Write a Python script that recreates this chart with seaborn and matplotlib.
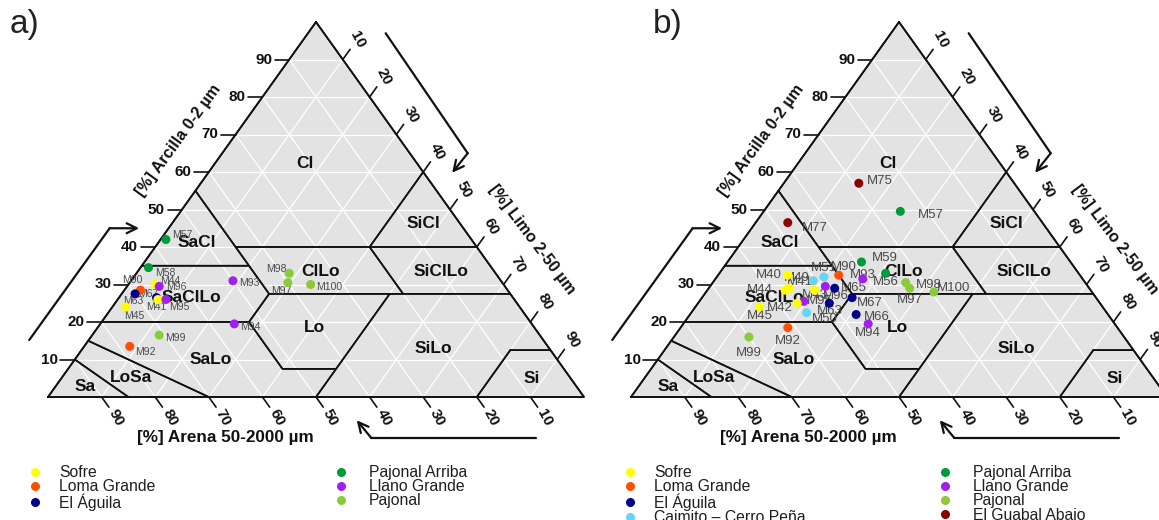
import matplotlib
matplotlib.use("Agg")
import numpy as np
import pandas as pd
import matplotlib.pyplot as plt
import seaborn as sns
from matplotlib.lines import Line2D
from matplotlib.patches import Polygon

sns.set_theme(style="white")
plt.rcParams["font.family"] = ["Liberation Sans", "DejaVu Sans"]

# ---------------------------------------------------------------- sites
SITES = ["Sofre", "Loma Grande", "El Águila", "Caimito – Cerro Peña",
         "Pajonal Arriba", "Llano Grande", "Pajonal", "El Guabal Abajo"]
SITE_COLORS = ["#ffff00", "#ff4f00", "#00008b", "#66d4f2",
               "#009a3a", "#a020f0", "#8acb37", "#8b0000"]

# ---------------------------------------------------------------- panel a samples (%)
a_sample = ["M57", "M58", "M90", "M44", "M96", "M63", "M67", "M41", "M95",
            "M45", "M93", "M94", "M99", "M92", "M98", "M97", "M100"]
a_site = ["Pajonal Arriba", "Pajonal Arriba", "Loma Grande", "Sofre", "Llano Grande",
          "El Águila", "El Águila", "Sofre", "Llano Grande", "Sofre", "Llano Grande",
          "Llano Grande", "Pajonal", "Loma Grande", "Pajonal", "Pajonal", "Pajonal"]
a_clay = [42, 34.5, 28.5, 30, 29.5, 27.5, 26.5, 26, 26, 24, 31, 19.5, 16.5, 13.5, 33, 30.5, 30]
a_silt = [1, 1.5, 3, 5, 6, 2.5, 7, 7.5, 9, 2.5, 19, 25, 12.5, 8.5, 28.5, 29.5, 34]
a_sand = [57, 64, 68.5, 65, 64.5, 70, 66.5, 66.5, 65, 73.5, 50, 55.5, 71, 78, 38.5, 40, 36]

# ---------------------------------------------------------------- panel b samples (%)
b_sample = ["M75", "M57", "M77", "M59", "M90", "M51", "M49", "M93", "M56", "M40",
            "M41", "M44", "M43", "M96", "M65", "M67", "M95", "M42", "M63", "M50",
            "M45", "M92", "M99", "M66", "M94", "M98", "M97", "M100"]
b_site = ["El Guabal Abajo", "Pajonal Arriba", "El Guabal Abajo", "Pajonal Arriba",
          "Loma Grande", "Caimito – Cerro Peña", "Caimito – Cerro Peña", "Llano Grande",
          "Pajonal Arriba", "Sofre", "Sofre", "Sofre", "Sofre", "Llano Grande",
          "El Águila", "El Águila", "Llano Grande", "Sofre", "El Águila",
          "Caimito – Cerro Peña", "Sofre", "Loma Grande", "Pajonal", "El Águila",
          "Llano Grande", "Pajonal", "Pajonal", "Pajonal"]
b_clay = [57, 49.5, 46.5, 36, 32.5, 32, 31, 31.5, 33, 32.5, 29, 28.5, 28.5, 29.5,
          29, 26.5, 25.5, 25, 25, 22.5, 24, 18.5, 16, 22, 19.5, 30.5, 29, 28]
b_silt = [14, 25.5, 6, 25, 22.5, 20, 18.5, 27.5, 31, 13, 15, 14.5, 20, 21.5,
          23.5, 28, 19.5, 18.5, 24.5, 21.5, 12, 20, 14, 31, 34.5, 36, 37.5, 42.5]
b_sand = [29, 25, 47.5, 39, 45, 48, 50.5, 41, 36, 54.5, 56, 57, 51.5, 49,
          47.5, 45.5, 55, 56.5, 50.5, 56, 64, 61.5, 70, 47, 46, 33.5, 33.5, 29.5]

# ---------------------------------------------------------------- USDA texture classes (clay, silt)
CLASSES = {
    "Cl":     [(100, 0), (55, 0), (40, 15), (40, 40), (60, 40)],
    "SiCl":   [(60, 40), (40, 40), (40, 60)],
    "SaCl":   [(55, 0), (35, 0), (35, 20)],
    "ClLo":   [(40, 15), (35, 20), (27.5, 27.5), (27.5, 52.5), (40, 40)],
    "SiClLo": [(40, 40), (27.5, 52.5), (27.5, 72.5), (40, 60)],
    "SaClLo": [(35, 0), (20, 0), (20, 27.5), (27.5, 27.5), (35, 20)],
    "Lo":     [(27.5, 27.5), (20, 27.5), (7.5, 40), (7.5, 50), (27.5, 50)],
    "SiLo":   [(27.5, 50), (0, 50), (0, 80), (12.5, 80), (12.5, 87.5), (27.5, 72.5)],
    "Si":     [(12.5, 80), (0, 80), (0, 100), (12.5, 87.5)],
    "SaLo":   [(20, 0), (15, 0), (0, 30), (0, 50), (7.5, 50), (7.5, 40), (20, 27.5)],
    "LoSa":   [(15, 0), (10, 0), (0, 15), (0, 30)],
    "Sa":     [(10, 0), (0, 0), (0, 15)],
}
# class name anchors in plot units (x, clay)
CLASS_LABEL_POS = {
    "Cl": (48, 62.4), "SiCl": (70, 46.4), "SaCl": (27.8, 41.3), "ClLo": (50.8, 33.4),
    "SiClLo": (73.3, 33.4), "SaClLo": (26.8, 26.6), "Lo": (49.8, 18.4),
    "SiLo": (71.9, 13), "SaLo": (30.4, 9.9), "LoSa": (15.5, 5.3), "Sa": (6.9, 2.7),
    "Si": (90.2, 5),
}

# label placement around each dot: (ha, dx px, dy px downward)
A_LABEL_OFFSETS = {
    "M57": ("left", 6, -4), "M58": ("left", 7, 5), "M90": ("right", 2, -10),
    "M44": ("left", 5, -4), "M96": ("left", 7, 1), "M63": ("center", -2, 7),
    "M67": ("right", 2, -4), "M41": ("center", -2, 8), "M95": ("left", 3, 8),
    "M45": ("left", -2, 9), "M93": ("left", 6, 2), "M94": ("left", 6, 3),
    "M99": ("left", 6, 3), "M92": ("left", 5, 6), "M98": ("right", -3, -4),
    "M97": ("right", 4, 8), "M100": ("left", 5, 2),
}
B_LABEL_OFFSETS = {
    "M75": ("left", 8, -2), "M57": ("left", 18, 4), "M77": ("left", 14, 5),
    "M59": ("left", 10, -4), "M90": ("center", 5, -8), "M51": ("center", 0, -9),
    "M49": ("right", -3, -3), "M93": ("center", 0, -4), "M56": ("center", 0, 9),
    "M40": ("right", -6, 0), "M41": ("left", -2, -6), "M44": ("right", -12, 0),
    "M43": ("center", 0, 5), "M96": ("left", -2, 10), "M65": ("left", 6, 0),
    "M67": ("left", 5, 5), "M95": ("left", 3, 0), "M42": ("right", -4, 5),
    "M63": ("center", 0, 8), "M50": ("left", 5, 6), "M45": ("center", 0, 9),
    "M92": ("center", 0, 13), "M99": ("center", 0, 16), "M66": ("left", 8, 2),
    "M94": ("center", 0, 9), "M98": ("left", 10, 2), "M97": ("center", 0, 12),
    "M100": ("left", 3, -4),
}

# ---------------------------------------------------------------- geometry
W, H = 1159, 520
SX, SY = 5.36, 3.75          # pixels per percent (horizontal / vertical)
BASE = 397                   # pixel row of the triangle base
FILL = "#e3e3e3"
INK = "#111111"

fig = plt.figure(figsize=(W / 100, H / 100), dpi=100)
fig.patch.set_facecolor("white")


def tern(clay, silt):
    clay = np.asarray(clay, float)
    silt = np.asarray(silt, float)
    return silt + clay / 2.0, clay


def make_axes(px0, px1, left):
    ax = fig.add_axes([px0 / W, 0, (px1 - px0) / W, 1])
    ax.set_xlim((px0 - left) / SX, (px1 - left) / SX)
    ax.set_ylim((BASE - H) / SY, BASE / SY)
    ax.set_axis_off()
    ax.patch.set_alpha(0)
    return ax


def draw_frame(ax, label_size):
    ax.add_patch(Polygon([[0, 0], [100, 0], [50, 100]], closed=True,
                         facecolor=FILL, edgecolor="none", zorder=0))
    for v in range(10, 100, 10):
        for (c0, s0), (c1, s1) in [((v, 0), (v, 100 - v)),
                                   ((0, v), (100 - v, v)),
                                   ((0, 100 - v), (100 - v, 0))]:
            x, y = tern([c0, c1], [s0, s1])
            ax.plot(x, y, color="white", lw=0.9, zorder=1)
    for name, pts in CLASSES.items():
        c, s = zip(*(pts + [pts[0]]))
        x, y = tern(c, s)
        ax.plot(x, y, color=INK, lw=1.2, zorder=2, solid_joinstyle="miter")
        lx, ly = CLASS_LABEL_POS[name]
        ax.text(lx, ly, name, ha="center", va="center", fontsize=12.5,
                fontweight="bold", color=INK, zorder=3)
    ax.plot([0, 100, 50, 0], [0, 0, 100, 0], color=INK, lw=1.3, zorder=2)

    t_len, t_lab = 2.7, 5.4
    for v in range(10, 100, 10):
        # clay axis (left edge)
        x, y = tern(v, 0)
        ax.plot([x, x - t_len], [y, y], color=INK, lw=1.2)
        ax.text(x - t_len - 0.5, y, str(v), ha="right", va="center",
                fontsize=label_size, fontweight="bold", color=INK)
        # silt axis (right edge)
        x, y = tern(100 - v, v)
        ax.plot([x, x + 0.5 * t_len], [y, y + t_len], color=INK, lw=1.2)
        ax.text(x + 0.5 * t_lab, y + t_lab, str(v), ha="center", va="center",
                rotation=-62, fontsize=label_size, fontweight="bold", color=INK)
        # sand axis (base)
        x, y = tern(0, 100 - v)
        ax.plot([x, x + 0.5 * t_len], [y, y - t_len], color=INK, lw=1.2)
        ax.text(x + 0.5 * t_lab, y - t_lab, str(v), ha="center", va="center",
                rotation=-62, fontsize=label_size, fontweight="bold", color=INK)

    ax.text(33, -10.8, "[%] Arena 50-2000 µm", ha="center", va="center",
            fontsize=12.3, fontweight="bold", color=INK)
    ax.text(24.3, 68.5, "[%] Arcilla 0-2 µm", ha="center", va="center",
            rotation=54, fontsize=11.6, fontweight="bold", color=INK)
    ax.text(90.3, 41.9, "[%] Limo 2-50 µm", ha="center", va="center",
            rotation=-53, fontsize=11.6, fontweight="bold", color=INK)

    # direction arrows
    arrow = dict(arrowstyle="->", lw=1.6, color=INK, mutation_scale=18,
                 shrinkA=0, shrinkB=0)
    for path in ([(-3.5, 15.2), (11.5, 45), (17.0, 45)],
                 [(63, 97), (78.3, 65), (75.4, 59.8)],
                 [(91, -10.9), (60.3, -10.9), (57.6, -6.2)]):
        (x0, y0), (x1, y1), (x2, y2) = path
        ax.plot([x0, x1], [y0, y1], color=INK, lw=1.6, solid_capstyle="round")
        ax.annotate("", xy=(x2, y2), xytext=(x1, y1), arrowprops=arrow)


def draw_samples(ax, sample, site, clay, silt, sand, offsets, fs):
    x, y = tern(clay, silt)
    df = pd.DataFrame({"sample": sample, "site": site, "clay": clay,
                       "silt": silt, "sand": sand, "x": x, "y": y})
    sns.scatterplot(data=df, x="x", y="y", hue="site", hue_order=SITES,
                    palette=dict(zip(SITES, SITE_COLORS)), s=42,
                    edgecolor="none", linewidth=0, legend=False, ax=ax, zorder=5)
    for _, r in df.iterrows():
        ha, dx, dy = offsets[r["sample"]]
        ax.annotate(r["sample"], (r["x"], r["y"]), xytext=(dx, -dy),
                    textcoords="offset pixels", ha=ha, va="center",
                    fontsize=fs, color="#4a4a4a", zorder=4)


def add_legend(names, px_left, px_top, pad):
    handles = [Line2D([0], [0], marker="o", ls="", markersize=6.5,
                      markerfacecolor=SITE_COLORS[SITES.index(n)],
                      markeredgecolor="none") for n in names]
    leg = fig.legend(handles, names, loc="upper left",
                     bbox_to_anchor=(px_left / W, 1 - px_top / H),
                     bbox_transform=fig.transFigure, frameon=False,
                     fontsize=11.3, handlelength=1.0, handletextpad=pad,
                     labelspacing=-0.05, borderpad=0, borderaxespad=0)
    for t in leg.get_texts():
        t.set_color("#1e1e1e")


ax_a = make_axes(0, 590, 48)
draw_frame(ax_a, 11)
draw_samples(ax_a, a_sample, a_site, a_clay, a_silt, a_sand, A_LABEL_OFFSETS, 7.5)

ax_b = make_axes(590, W, 631)
draw_frame(ax_b, 11)
draw_samples(ax_b, b_sample, b_site, b_clay, b_silt, b_sand, B_LABEL_OFFSETS, 9.5)

fig.text(10 / W, 1 - 24 / H, "a)", fontsize=24, color="#222222", va="center")
fig.text(653 / W, 1 - 24 / H, "b)", fontsize=24, color="#222222", va="center")

add_legend(["Sofre", "Loma Grande", "El Águila"], 27, 465, 1.04)
add_legend(["Pajonal Arriba", "Llano Grande", "Pajonal"], 333, 465, 1.3)
add_legend(["Sofre", "Loma Grande", "El Águila", "Caimito – Cerro Peña"], 622, 465, 1.04)
add_legend(["Pajonal Arriba", "Llano Grande", "Pajonal", "El Guabal Abajo"], 937, 465, 1.3)

fig.savefig("out.png", dpi=100)
